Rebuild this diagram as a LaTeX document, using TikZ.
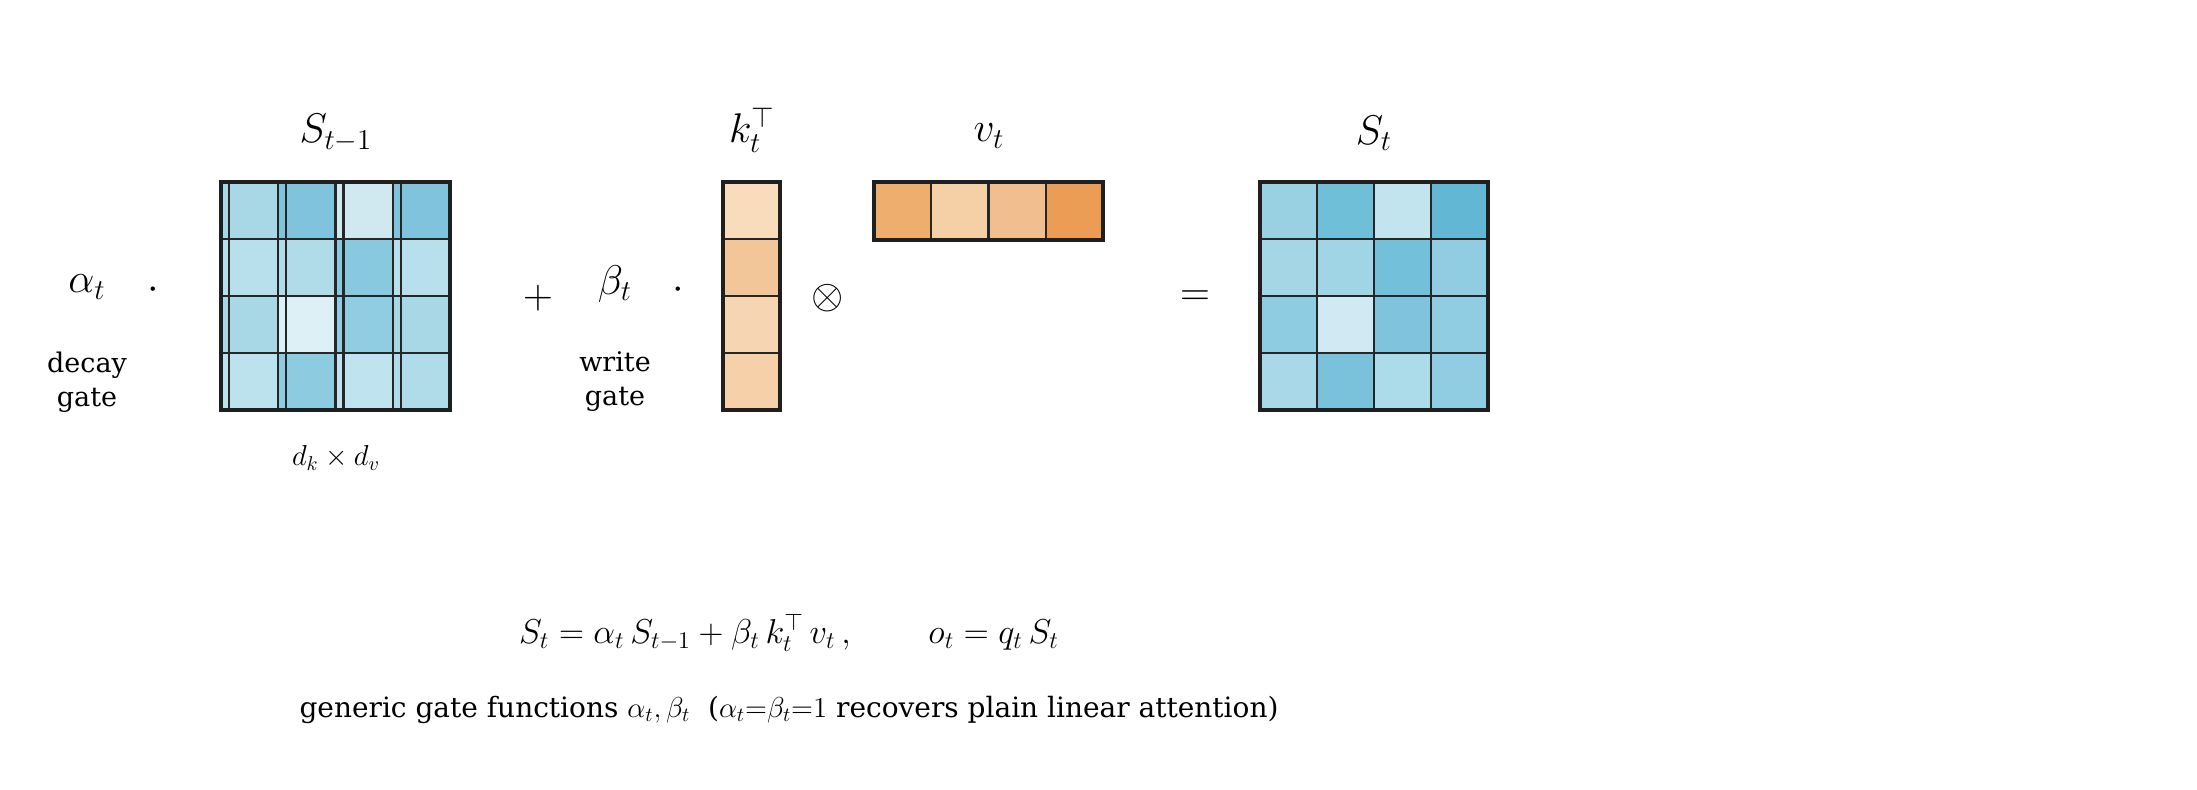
\documentclass[tikz,border=0pt]{standalone}
\usepackage{fontspec}
\setmainfont{DejaVu Serif}
\begin{document}
\begin{tikzpicture}[x=0.5pt,y=-0.5pt,
  cellb/.style={draw=black!85,line width=1.2pt},
  frame/.style={draw=black!88,line width=2pt},
  big/.style={font=\fontsize{22}{26}\selectfont},
  lbl/.style={font=\fontsize{13.5}{17}\selectfont,align=center}]
\useasboundingbox (0,0) rectangle (2197,790);
\definecolor{a1}{HTML}{A8D8E6}\definecolor{a2}{HTML}{7FC4DC}\definecolor{a3}{HTML}{D0E9F1}
\definecolor{a4}{HTML}{B8E0EC}\definecolor{a5}{HTML}{B0DCEA}\definecolor{a6}{HTML}{88C9E0}
\definecolor{a7}{HTML}{DCF0F6}\definecolor{a8}{HTML}{90CDE2}\definecolor{a9}{HTML}{BCE2EE}
\definecolor{a10}{HTML}{8CCBE0}\definecolor{a11}{HTML}{C0E4EF}
\definecolor{b1}{HTML}{99D1E3}\definecolor{b2}{HTML}{6FBFD9}\definecolor{b3}{HTML}{C2E4EE}
\definecolor{b4}{HTML}{62B7D5}\definecolor{b5}{HTML}{A4D6E6}\definecolor{b6}{HTML}{A0D5E6}
\definecolor{b7}{HTML}{72C0DA}\definecolor{b8}{HTML}{8ECCE1}\definecolor{b9}{HTML}{D0E9F2}
\definecolor{b10}{HTML}{A9D9E8}\definecolor{b11}{HTML}{7AC2DC}\definecolor{b12}{HTML}{ACDBEA}
\definecolor{k1}{HTML}{F8DCBB}\definecolor{k2}{HTML}{F3C69A}\definecolor{k3}{HTML}{F6D5B2}\definecolor{k4}{HTML}{F5D0A8}
\definecolor{v1}{HTML}{EEAE6E}\definecolor{v2}{HTML}{F5CFA6}\definecolor{v3}{HTML}{F1BF8F}\definecolor{v4}{HTML}{EB9D55}
% S_{t-1}
\foreach \c [count=\i from 0] in {a1,a2,a3,a2, a4,a5,a6,a4, a1,a7,a8,a1, a9,a10,a11,a5}{
  \pgfmathtruncatemacro{\cx}{mod(\i,4)}\pgfmathtruncatemacro{\cy}{div(\i,4)}
  \fill[\c] (221+57.25*\cx,182+57*\cy) rectangle ++(57.25,57);}
\draw[cellb] (221,182) grid[xstep=57.25,ystep=57] (450,410);
\foreach \k in {1,2,3}{\draw[cellb] (221+57.25*\k,182) -- (221+57.25*\k,410); \draw[cellb] (221,182+57*\k) -- (450,182+57*\k);}
\node[frame,minimum width=114.5pt,minimum height=114pt,inner sep=0pt] (Sp) at (335.5,296) {};
% S_t
\foreach \c [count=\i from 0] in {b1,b2,b3,b4, b5,b6,b7,a8, b8,b9,a2,a8, b10,b11,b12,a8}{
  \pgfmathtruncatemacro{\cx}{mod(\i,4)}\pgfmathtruncatemacro{\cy}{div(\i,4)}
  \fill[\c] (1260+57*\cx,182+57*\cy) rectangle ++(57,57);}
\foreach \k in {1,2,3}{\draw[cellb] (1260+57*\k,182) -- (1260+57*\k,410); \draw[cellb] (1260,182+57*\k) -- (1488,182+57*\k);}
\node[frame,minimum width=114pt,minimum height=114pt,inner sep=0pt] (S) at (1374,296) {};
% k column
\foreach \c [count=\i from 0] in {k1,k2,k3,k4}{\fill[\c] (723,182+57*\i) rectangle ++(57,57);}
\foreach \k in {1,2,3}{\draw[cellb] (723,182+57*\k) -- (780,182+57*\k);}
\node[frame,minimum width=28.5pt,minimum height=114pt,inner sep=0pt] (K) at (751.5,296) {};
% v row
\foreach \c [count=\i from 0] in {v1,v2,v3,v4}{\fill[\c] (874+57.25*\i,182) rectangle ++(57.25,58);}
\foreach \k in {1,2,3}{\draw[cellb] (874+57.25*\k,182) -- (874+57.25*\k,240);}
\node[frame,minimum width=114.5pt,minimum height=29pt,inner sep=0pt] (V) at (988.5,211) {};
% labels
\node[big] (lSp) at (336,133) {$S_{t-1}$};
\node[big] (lK) at (752,130) {$k_t^{\top}$};
\node[big] (lV) at (989,136) {$v_t$};
\node[big] (lS) at (1374,133) {$S_t$};
\node[font=\fontsize{14}{16}\selectfont] (dim) at (336,458) {$d_k\times d_v$};
\node[big] (al) at (87,287) {$\alpha_t$};
\node[big] (d1) at (153,290) {$\cdot$};
\node[lbl] (dg) at (87,382) {decay\\gate};
\node[big] (pl) at (538,298) {$+$};
\node[big] (be) at (615,284) {$\beta_t$};
\node[big] (d2) at (678,290) {$\cdot$};
\node[lbl] (wg) at (615,382) {write\\gate};
\node[big] (ot) at (828,298) {$\otimes$};
\node[big] (eq) at (1195,298) {$=$};
\node[font=\fontsize{18}{22}\selectfont] (form) at (789,633)
  {$S_t = \alpha_t\, S_{t-1} + \beta_t\, k_t^{\top}\, v_t\,,\qquad o_t = q_t\, S_t$};
\node[font=\fontsize{14}{17}\selectfont] (cap) at (789,710)
  {generic gate functions $\alpha_t,\beta_t$\ \ ($\alpha_t{=}\beta_t{=}1$ recovers plain linear attention)};
\end{tikzpicture}
\end{document}
